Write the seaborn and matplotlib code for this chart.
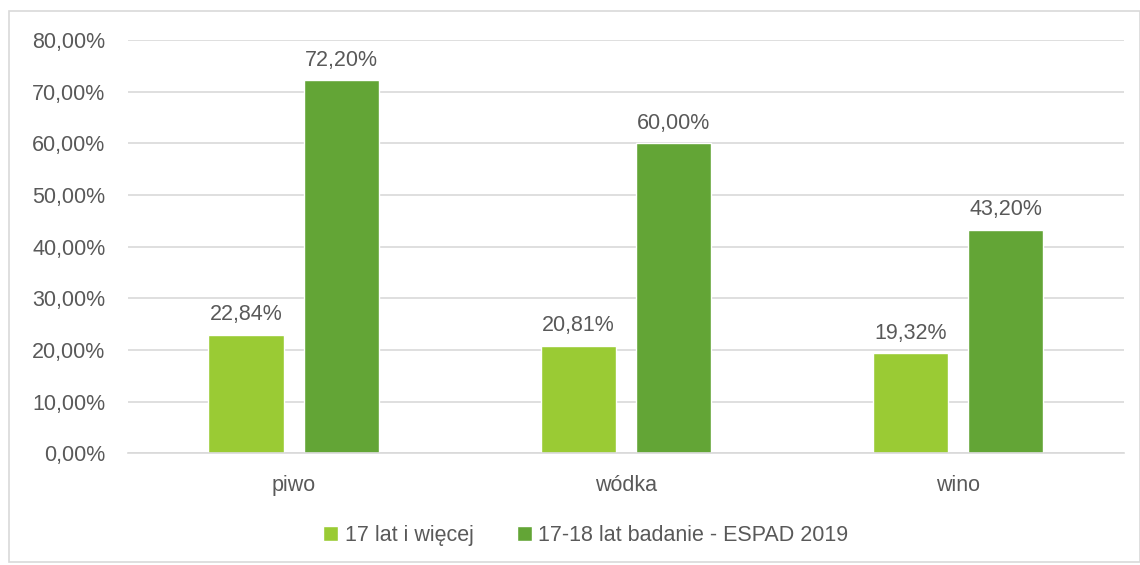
import matplotlib
matplotlib.use("Agg")
import matplotlib.pyplot as plt
import matplotlib.patches as mpatches
import seaborn as sns
import pandas as pd

categories = ["piwo", "wódka", "wino"]
series_names = ["17 lat i więcej", "17-18 lat badanie - ESPAD 2019"]
values_17_plus = [22.84, 20.81, 19.32]
values_espad = [72.20, 60.00, 43.20]
colors = ["#9ACB34", "#63A536"]

df = pd.DataFrame({
    "kategoria": categories * 2,
    "seria": [series_names[0]] * 3 + [series_names[1]] * 3,
    "wartosc": values_17_plus + values_espad,
})

sns.set_style("white")
plt.rcParams["font.family"] = ["Liberation Sans", "DejaVu Sans"]
text_color = "#595959"
fs = 15.5

fig = plt.figure(figsize=(11.4, 5.65), dpi=100)
ax = fig.add_axes([0.112, 0.198, 0.874, 0.731])

sns.barplot(data=df, x="kategoria", y="wartosc", hue="seria",
            palette=colors, width=0.574, gap=0.21, saturation=1,
            ax=ax, legend=True)

ax.set_ylim(0, 80)
ax.set_xlim(-0.5, 2.5)
ax.set_yticks(range(0, 81, 10))
ax.set_yticklabels([f"{v},00%" for v in range(0, 81, 10)])
ax.yaxis.grid(True, color="#D9D9D9", linewidth=1.2)
ax.set_axisbelow(True)
for s in ["top", "right", "left"]:
    ax.spines[s].set_visible(False)
ax.spines["bottom"].set_color("#D9D9D9")
ax.spines["bottom"].set_linewidth(1.2)
ax.tick_params(axis="both", length=0, labelsize=fs, colors=text_color)
ax.tick_params(axis="x", pad=16)
ax.tick_params(axis="y", pad=16)
ax.set_xlabel("")
ax.set_ylabel("")

for container in ax.containers:
    labels = [f"{b.get_height():.2f}%".replace(".", ",") for b in container]
    ax.bar_label(container, labels=labels, padding=7, fontsize=fs, color=text_color)

handles, _ = ax.get_legend_handles_labels()
ax.get_legend().remove()
fig.legend(handles, series_names, loc="center", bbox_to_anchor=(0.514, 0.052),
           ncol=2, frameon=False, fontsize=fs, labelcolor=text_color,
           handlelength=0.7, handleheight=0.7, handletextpad=0.3, columnspacing=2.0)

border = mpatches.Rectangle((9 / 1140, 3 / 565), 1 - 9 / 1140, 1 - 14 / 565,
                            transform=fig.transFigure, fill=False,
                            edgecolor="#D9D9D9", linewidth=1.2)
fig.patches.append(border)

fig.savefig("out.png", dpi=100)
